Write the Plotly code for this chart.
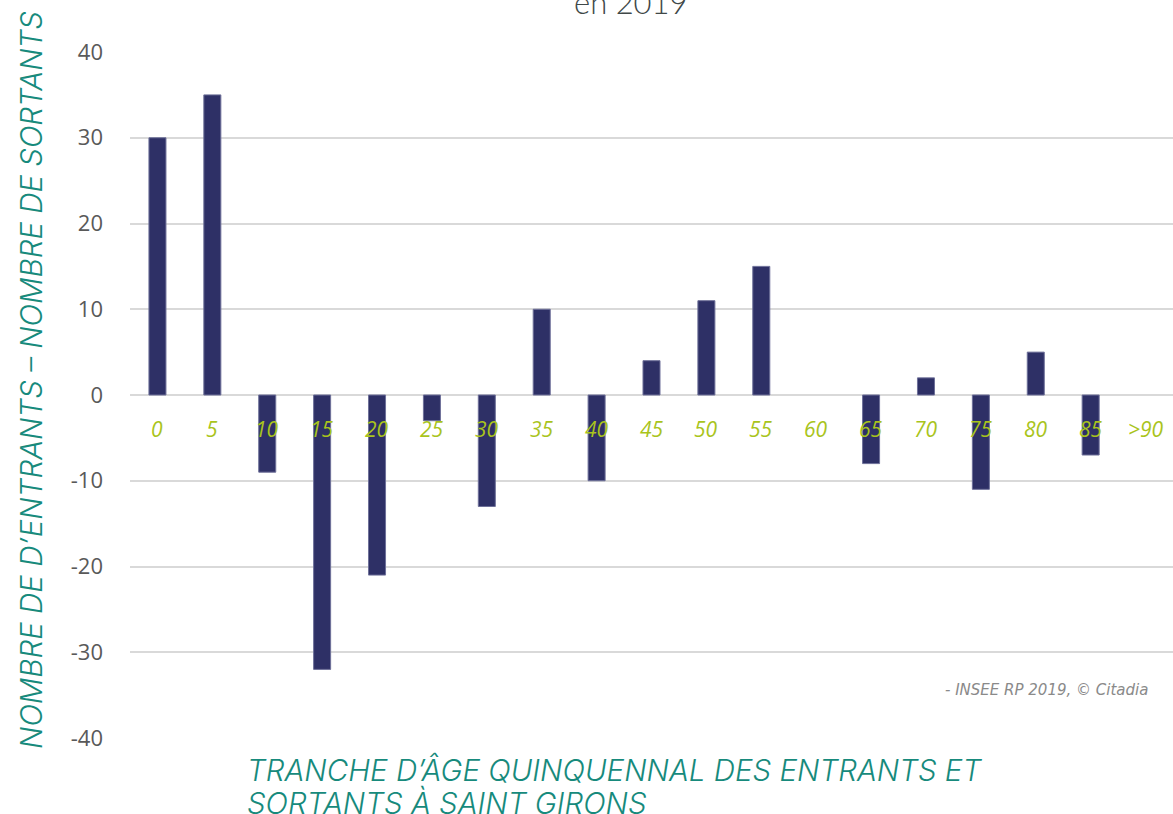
import plotly.graph_objects as go

categories = ["0", "5", "10", "15", "20", "25", "30", "35", "40", "45",
              "50", "55", "60", "65", "70", "75", "80", "85", ">90"]
values = [30, 35, -9, -32, -21, -3, -13, 10, -10, 4,
          11, 15, 0, -8, 2, -11, 5, -7, 0]
y_ticks = [-40, -30, -20, -10, 0, 10, 20, 30, 40]
y_tick_text = ["-40", "-30", "-20", "-10", "0", "10", "20", "30", "40"]

TEAL = "#178a7c"
LIME = "#a9c41c"
GRAY = "#595959"

W, H = 1173, 814
L, R, T, B = 130, 0, 52, 76
PW, PH = W - L - R, H - T - B

fig = go.Figure()
fig.add_trace(go.Bar(
    x=categories, y=values, width=0.31,
    marker=dict(color="#2e3066",
                line=dict(color="#6e7099", width=[0 if v == 0 else 1 for v in values])),
    showlegend=False,
))

# category labels drawn inside the plot just below the zero line
for i, c in enumerate(categories):
    fig.add_annotation(x=i, y=-4, xref="x", yref="y", text=f"<i>{c}</i>",
                       showarrow=False,
                       font=dict(family="Open Sans", size=21, color=LIME),
                       xanchor="center", yanchor="middle")

fig.update_layout(
    width=W, height=H,
    margin=dict(l=L, r=R, t=T, b=B),
    paper_bgcolor="white", plot_bgcolor="white",
    xaxis=dict(type="category", range=[-0.5, 18.5], showticklabels=False,
               showgrid=False, zeroline=False, showline=False, ticks=""),
    yaxis=dict(range=[-40, 40], tickvals=y_ticks, ticktext=y_tick_text,
               showgrid=True, gridcolor="#d9d9d9", gridwidth=1.5, zeroline=True,
               zerolinecolor="#d9d9d9", zerolinewidth=1.5, showline=False,
               ticks="", ticklabelstandoff=26,
               tickfont=dict(family="Open Sans", size=22, color=GRAY)),
)

# cut title
fig.add_annotation(x=(631 - L) / PW, xref="paper", y=1 + (T - 23) / PH,
                   yref="paper", text="en 2019", showarrow=False,
                   xanchor="center", yanchor="bottom",
                   font=dict(family="Lato", size=31, color="#404848", weight=300))

# y axis title
fig.add_annotation(x=-(L - 31) / PW, xref="paper", y=(T + PH - 380) / PH,
                   yref="paper",
                   text="<i>NOMBRE DE D’ENTRANTS – NOMBRE DE SORTANTS</i>",
                   textangle=-90, showarrow=False, xanchor="center", yanchor="middle",
                   font=dict(family="Inter", size=29.5, color=TEAL, weight=300))

# x axis title (two lines)
x_title_lines = ["TRANCHE D’ÂGE QUINQUENNAL DES ENTRANTS ET", "SORTANTS À SAINT GIRONS"]
for k, line in enumerate(x_title_lines):
    fig.add_annotation(x=(245 - L) / PW, xref="paper",
                       y=-(750 + 33 * k - (T + PH)) / PH, yref="paper",
                       text=f"<i>{line}</i>",
                       showarrow=False, xanchor="left", yanchor="top", align="left",
                       font=dict(family="Inter", size=29.5, color=TEAL, weight=300))

# source watermark
fig.add_annotation(x=(1150 - L) / PW, xref="paper", y=-34.4, yref="y",
                   text="<i>- INSEE RP 2019, © Citadia</i>", showarrow=False,
                   xanchor="right", yanchor="middle",
                   font=dict(family="DejaVu Sans", size=15, color="#8a8a8a"))

fig.write_html("out.html", config={"displayModeBar": False},
               post_script="document.body.style.margin='0';")
